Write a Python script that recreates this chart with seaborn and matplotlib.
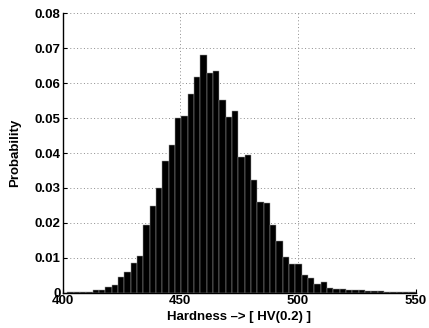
import numpy as np
import pandas as pd
import seaborn as sns
import matplotlib
matplotlib.use('Agg')
import matplotlib.pyplot as plt

# histogram: bin edges start near 402 HV, width ~2.69
first_edge = 401.98
bin_width = 2.69
probability = [0.0001, 0.0001, 0.0002, 0.0003, 0.0007, 0.0007, 0.0017, 0.0023,
               0.0046, 0.0058, 0.0084, 0.0106, 0.0193, 0.0248, 0.0301, 0.0377,
               0.0423, 0.0501, 0.0507, 0.0568, 0.0617, 0.0680, 0.0629, 0.0634,
               0.0553, 0.0503, 0.0519, 0.0390, 0.0393, 0.0323, 0.0260, 0.0257,
               0.0193, 0.0149, 0.0101, 0.0083, 0.0083, 0.0050, 0.0043, 0.0026,
               0.0030, 0.0014, 0.0011, 0.0011, 0.0007, 0.0008, 0.0007, 0.0004,
               0.0004, 0.0004, 0.0003, 0.0003, 0.0003, 0.0002, 0.0002]
x_ticks = [400, 450, 500, 550]
y_ticks = [0, 0.01, 0.02, 0.03, 0.04, 0.05, 0.06, 0.07, 0.08]

edges = first_edge + bin_width * np.arange(len(probability) + 1)
df = pd.DataFrame({'hardness': (edges[:-1] + edges[1:]) / 2,
                   'p': probability})

sns.set_style('white')
plt.rcParams['font.family'] = ['Liberation Sans', 'DejaVu Sans']
plt.rcParams['font.weight'] = 'bold'
plt.rcParams['text.color'] = 'black'
plt.rcParams['axes.labelcolor'] = 'black'
plt.rcParams['xtick.color'] = 'black'
plt.rcParams['ytick.color'] = 'black'

fig = plt.figure(figsize=(4.29, 3.28), dpi=100)
ax = fig.add_axes([0.146, 0.108, 0.823, 0.851])

sns.histplot(data=df, x='hardness', weights='p', bins=list(edges),
             color='black', alpha=1, edgecolor='0.6', linewidth=0.35, ax=ax)

ax.set_xlim(400, 550)
ax.set_ylim(0, 0.08)
ax.set_xticks(x_ticks)
ax.set_yticks(y_ticks)
ax.set_yticklabels(['0'] + [f'{v:.2f}' for v in y_ticks[1:]])
ax.grid(True, color='0.55', linestyle=(0, (1, 2.5)), linewidth=0.7)
ax.set_axisbelow(True)
for s in ['top', 'right']:
    ax.spines[s].set_visible(False)
for s in ['left', 'bottom']:
    ax.spines[s].set_color('black')
    ax.spines[s].set_linewidth(1.0)
ax.tick_params(direction='in', length=3, width=0.8, labelsize=9.5,
               colors='black', left=True, bottom=True, pad=1.5)
for lab in ax.get_xticklabels() + ax.get_yticklabels():
    lab.set_fontweight('bold')

ax.set_xlabel('Hardness –> [ HV(0.2) ]', fontsize=9.5, fontweight='bold',
              color='black', labelpad=3)
ax.set_ylabel('Probability', fontsize=9.5, fontweight='bold',
              color='black', labelpad=10)

fig.savefig('out.png', dpi=100)
